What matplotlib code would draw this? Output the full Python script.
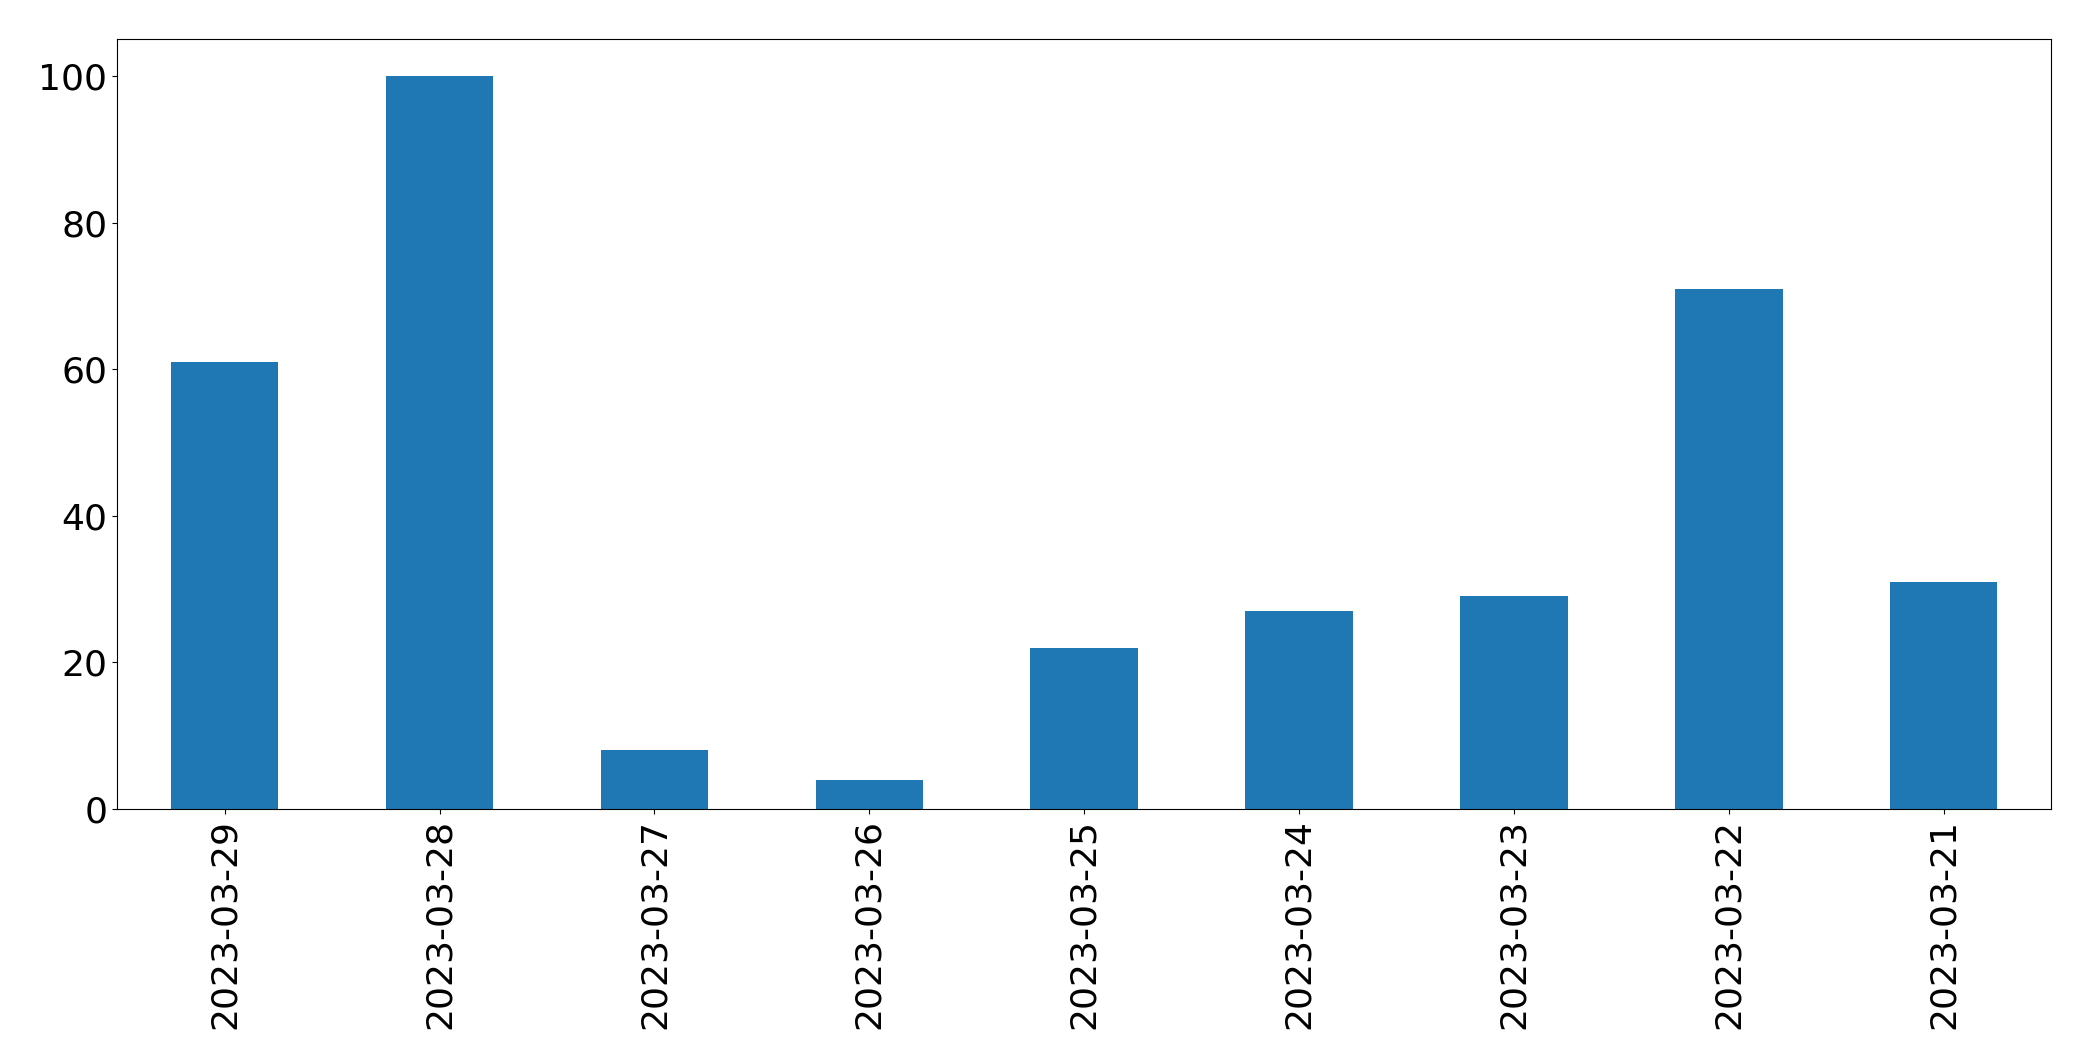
import numpy as np
import matplotlib.pyplot as plt

dates = ["2023-03-29", "2023-03-28", "2023-03-27", "2023-03-26", "2023-03-25",
         "2023-03-24", "2023-03-23", "2023-03-22", "2023-03-21"]
counts = [61, 100, 8, 4, 22, 27, 29, 71, 31]

fig = plt.figure(figsize=(20.93, 10.61), dpi=100)
ax = fig.add_axes([0.056, 0.2375, 0.924, 0.7255])

x = np.arange(len(dates))
ax.bar(x, counts, width=0.5, color="#1f77b4")
ax.set_xlim(-0.5, len(dates) - 0.5)
ax.set_ylim(0, 105)
ax.set_xticks(x)
ax.set_xticklabels(dates, rotation=90)
ax.tick_params(labelsize=26)

fig.savefig("out.png", dpi=100)
